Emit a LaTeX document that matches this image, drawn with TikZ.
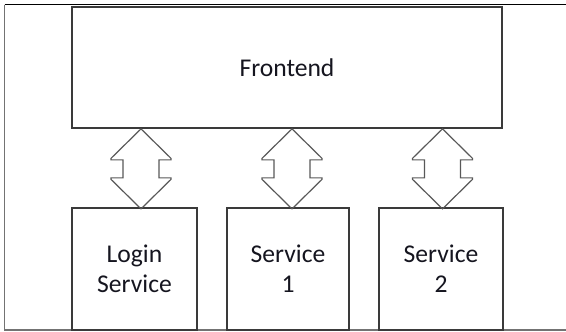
\documentclass[tikz,border=0pt]{standalone}
\usepackage{fontspec}
\setmainfont{Carlito}
\usetikzlibrary{calc}
\definecolor{boxgray}{HTML}{3A3A3A}
\definecolor{textgray}{HTML}{15151F}
\tikzset{
    block/.style={draw=boxgray, line width=1.2pt, minimum height=3.05cm,
        align=center, text=textgray, font=\fontsize{18.2}{21.4}\selectfont},
    twoway/.style={draw=boxgray!85, line width=0.85pt, line join=miter}
}
\begin{document}
\begin{tikzpicture}[x=0.025cm, y=-0.025cm]
    \useasboundingbox (0,0) rectangle (566,331);

    % ~~~~ Marco ~~~~ %
    \draw[black!55, line width=0.8pt] (4.5,4.5) -- (4.5,330) -- (566,330);
    \draw[black, line width=0.8pt] (4.5,4.5) -- (566,4.5);

    % ~~~~ Cajas ~~~~ %
    \node[block, minimum width=10.75cm, minimum height=3.025cm] (front) at (287,67.5) {Frontend};
    \node[block, minimum width=3.125cm] (login) at (134.5,269) {Login\\Service};
    \node[block, minimum width=3.05cm] (srvone) at (288,269) {Service\\1};
    \node[block, minimum width=3.1cm] (srvtwo) at (441,269) {Service\\2};

    % ~~~~ Flechas dobles ~~~~ %
    \foreach \b/\dx in {login/6.5, srvone/4, srvtwo/1.5}
        \draw[twoway] ($(front.south -| \b.north)+(\dx,0)$) -- ++(30,29.5) -- ++(0,1.5)
            -- ++(-12,0) -- ++(0,18) -- ++(12,0) -- ++(0,1.5) -- ++(-30,29.5)
            -- ++(-30,-29.5) -- ++(0,-1.5) -- ++(12,0) -- ++(0,-18) -- ++(-12,0)
            -- ++(0,-1.5) -- cycle;
\end{tikzpicture}
\end{document}
